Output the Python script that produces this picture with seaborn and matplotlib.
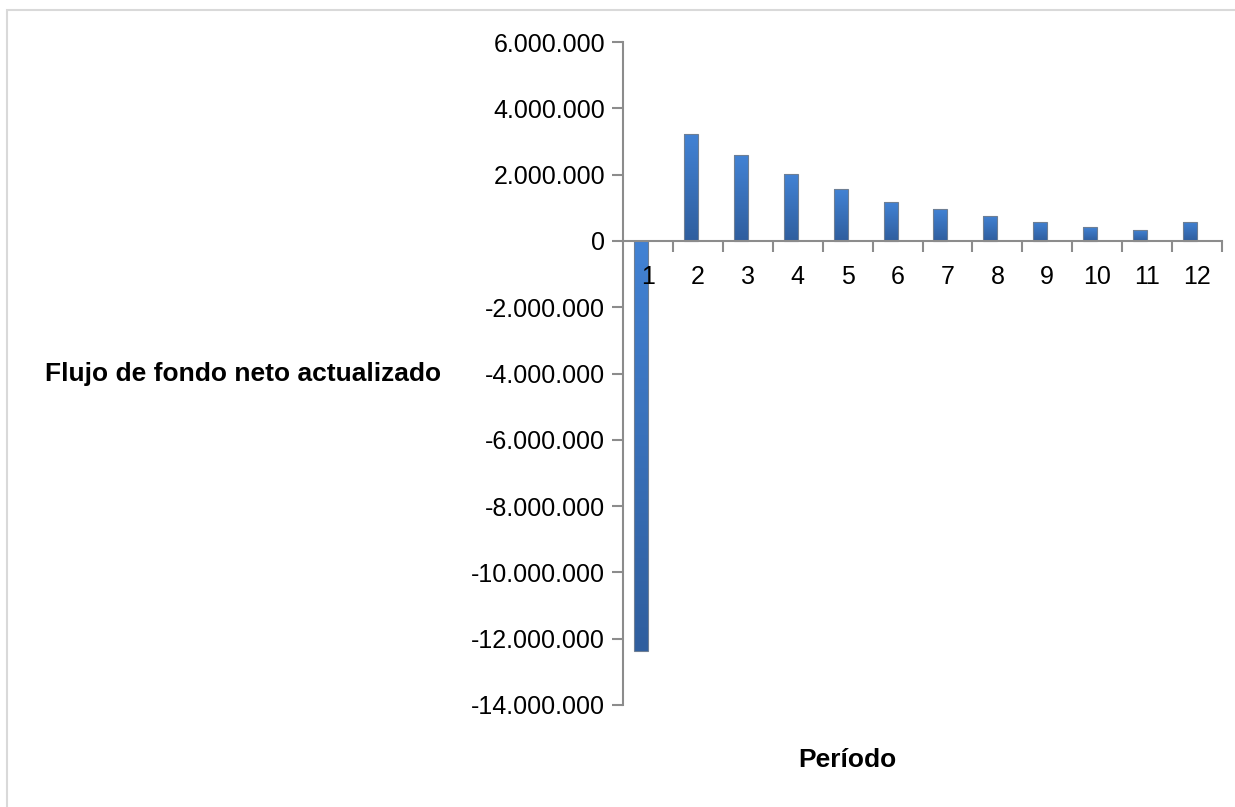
import numpy as np
import pandas as pd
import matplotlib
matplotlib.use("Agg")
import matplotlib.pyplot as plt
import seaborn as sns
from matplotlib.colors import LinearSegmentedColormap
from matplotlib.patches import Rectangle
from matplotlib.ticker import FuncFormatter, FixedLocator

# Net discounted cash flow per period
periodos = [str(i) for i in range(1, 13)]
flujo = [-12370000, 3210000, 2580000, 2010000, 1560000, 1175000,
         965000, 755000, 575000, 420000, 330000, 575000]
y_ticks = list(range(-14000000, 6000001, 2000000))

df = pd.DataFrame({"Período": periodos, "Flujo": flujo})

sns.set_theme(style="white")
plt.rcParams["font.family"] = ["Liberation Sans", "DejaVu Sans"]

fig = plt.figure(figsize=(12.35, 8.07), dpi=100)
ax = fig.add_axes([623 / 1235, 1 - 705 / 807, 599 / 1235, 663 / 807])

bar_w = 0.28
sns.barplot(data=df, x="Período", y="Flujo", color="#3A70BA", width=bar_w,
            ax=ax, errorbar=None)

# Bars sit just left of each category centre; fill them with a vertical gradient
grad_cmap = LinearSegmentedColormap.from_list("bar", ["#2F5E9E", "#4282D4"])
grad = np.linspace(0, 1, 200).reshape(-1, 1)
for p in ax.patches:
    p.set_x(p.get_x() - bar_w / 2)
    x0, w = p.get_x(), p.get_width()
    y0, y1 = sorted([p.get_y(), p.get_y() + p.get_height()])
    p.set_facecolor("none")
    p.set_edgecolor("#6E7F94")
    p.set_linewidth(0.8)
    p.set_zorder(3)
    im = ax.imshow(grad, cmap=grad_cmap, origin="lower", aspect="auto",
                   extent=(x0, x0 + w, y0, y1), zorder=2)
    im.set_clip_path(p)

ax.set_xlim(-0.5, 11.5)
ax.set_ylim(-14000000, 6000000)

axis_col = "#8C8C8C"
for s in ["top", "right"]:
    ax.spines[s].set_visible(False)
ax.spines["left"].set_color(axis_col)
ax.spines["left"].set_linewidth(1.5)
ax.spines["bottom"].set_color(axis_col)
ax.spines["bottom"].set_linewidth(1.5)
ax.spines["bottom"].set_position(("data", 0))
ax.spines["bottom"].set_zorder(4)

ax.yaxis.set_major_locator(FixedLocator(y_ticks))
ax.yaxis.set_major_formatter(
    FuncFormatter(lambda v, pos: f"{v:,.0f}".replace(",", ".")))
ax.tick_params(axis="y", which="major", left=True, length=8, width=1.5,
               color=axis_col, pad=5, labelsize=18, labelcolor="black")

# Labels at category centres, tick marks at category boundaries
ax.set_xticks(range(12))
ax.set_xticklabels(periodos)
ax.set_xticks(np.arange(0.5, 12, 1.0), minor=True)
ax.tick_params(axis="x", which="major", bottom=True, length=0, pad=17,
               labelsize=18, labelcolor="black")
ax.tick_params(axis="x", which="minor", bottom=True, length=8, width=1.5,
               color=axis_col)
ax.xaxis.set_zorder(5)

ax.set_ylabel("Flujo de fondo neto actualizado", rotation=0, fontsize=19,
              fontweight="bold", ha="center", va="center", color="black")
ax.yaxis.set_label_coords((243 - 623) / 599, 0.5)
ax.set_xlabel("Período", fontsize=19, fontweight="bold", va="center",
              color="black")
ax.xaxis.set_label_coords((847 - 623) / 599, -(760 - 705) / 663)

# Chart area border
fig.patches.append(Rectangle((7 / 1235, -0.1), 1.1, 1 - 10 / 807 + 0.1,
                             transform=fig.transFigure, fill=False,
                             edgecolor="#D9D9D9", linewidth=1.5, zorder=0))

fig.savefig("out.png", dpi=100, facecolor="white")
